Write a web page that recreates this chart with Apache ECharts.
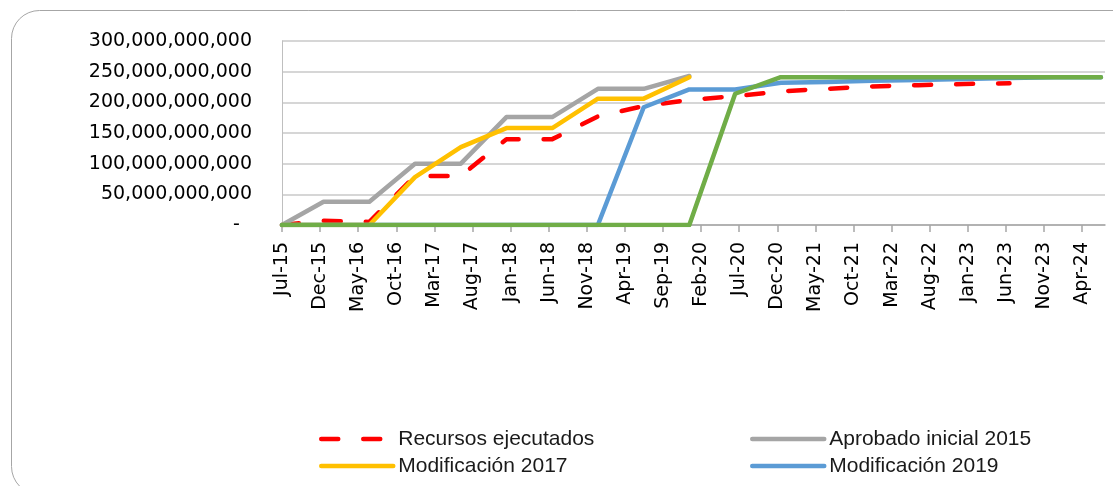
<!DOCTYPE html>
<html>
<head>
<meta charset="utf-8">
<script src="https://cdn.jsdelivr.net/npm/echarts@6/dist/echarts.min.js"></script>
<style>
  html, body { margin: 0; padding: 0; background: #ffffff; }
  #chart { width: 1113px; height: 486px; }
</style>
</head>
<body>
<div id="chart"></div>
<script>
// ---- Data ----
const axisStart = '2015-07-01';
const axisEnd = '2024-07-01';
const xTickLabels = ['Jul-15','Dec-15','May-16','Oct-16','Mar-17','Aug-17','Jan-18','Jun-18','Nov-18','Apr-19','Sep-19',
  'Feb-20','Jul-20','Dec-20','May-21','Oct-21','Mar-22','Aug-22','Jan-23','Jun-23','Nov-23','Apr-24'];
const monthsPerTick = 5;
const yTickValues = [0, 50e9, 100e9, 150e9, 200e9, 250e9, 300e9];

const ejecutadosDates = ['2015-07-01','2015-12-15','2016-06-15','2016-12-15','2017-06-15','2017-12-15','2018-06-15','2018-12-15',
  '2019-06-15','2019-12-15','2020-06-15','2020-12-15','2021-06-15','2021-12-15','2022-06-15','2022-12-15','2023-06-15'];
const ejecutadosValues = [0, 7e9, 5e9, 80e9, 80e9, 140e9, 140e9, 177e9,
  194e9, 204e9, 210e9, 218e9, 222e9, 226e9, 228e9, 230e9, 231e9];

const aprobadoDates = ['2015-07-01','2015-12-15','2016-06-15','2016-12-15','2017-06-15','2017-12-15','2018-06-15','2018-12-15','2019-06-15','2019-12-15'];
const aprobadoValues = [0, 38e9, 38e9, 100e9, 100e9, 176e9, 176e9, 222e9, 222e9, 243e9];

const mod2017Dates = ['2015-07-01','2016-06-15','2016-12-15','2017-06-15','2017-12-15','2018-06-15','2018-12-15','2019-06-15','2019-12-15'];
const mod2017Values = [0, 0, 78e9, 127e9, 158e9, 158e9, 206e9, 206e9, 241e9];

const mod2019Dates = ['2015-07-01','2018-12-15','2019-06-15','2019-12-15','2020-06-15','2020-12-15','2021-06-15','2021-12-15',
  '2022-06-15','2022-12-15','2023-06-15','2023-12-15','2024-06-15'];
const mod2019Values = [0, 0, 192e9, 221e9, 221e9, 232e9, 233e9, 235e9, 236.5e9, 238e9, 239.5e9, 241e9, 241e9];

const mod2020Dates = ['2015-07-01','2019-12-15','2020-06-15','2020-12-15','2021-06-15','2021-12-15','2022-06-15','2022-12-15',
  '2023-06-15','2023-12-15','2024-06-15'];
const mod2020Values = [0, 0, 214e9, 241e9, 241e9, 241e9, 241e9, 241e9, 241e9, 241e9, 241e9];

// ---- helpers ----
function toMonthIndex(dateStr) {
  const [y, m, d] = dateStr.split('-').map(Number);
  const [y0, m0] = axisStart.split('-').map(Number);
  const dim = new Date(y, m, 0).getDate();
  return (y - y0) * 12 + (m - m0) + (d - 1) / dim;
}
function pairs(dates, values) { return dates.map((d, i) => [toMonthIndex(d), values[i]]); }
function fmtNum(v) { return v === 0 ? '-  ' : String(Math.round(v)).replace(/\B(?=(\d{3})+(?!\d))/g, ','); }

const tickPositions = xTickLabels.map((_, i) => i * monthsPerTick);
const xMax = toMonthIndex(axisEnd);

function lineSeries(name, data, color, extra) {
  return Object.assign({
    name: name, type: 'line', data: data, symbol: 'none', showSymbol: false,
    lineStyle: { color: color, width: 4.5, cap: 'round', join: 'round' },
    itemStyle: { color: color },
    emphasis: { disabled: true },
    animation: false
  }, extra || {});
}

const chart = echarts.init(document.getElementById('chart'), null, { renderer: 'canvas' });
const legendText = { fontFamily: 'Liberation Sans, Arial, sans-serif', fontSize: 21, color: '#1a1a1a', lineHeight: 21 };
const legendCommon = {
  orient: 'vertical', top: 428.5, padding: 0, itemWidth: 72, itemHeight: 14, itemGap: 6,
  textStyle: legendText, selectedMode: false,
  itemStyle: { opacity: 0 },
  lineStyle: { width: 4.5, cap: 'round' }
};

chart.setOption({
  animation: false,
  backgroundColor: '#ffffff',
  graphic: [{
    type: 'rect', silent: true, z: -10,
    shape: { x: 11.5, y: 10.5, width: 1140, height: 484, r: 28 },
    style: { fill: 'none', stroke: '#a6a6a6', lineWidth: 1 }
  }],
  grid: { left: 282, right: 8, top: 41, bottom: 261, containLabel: false },
  legend: [
    Object.assign({ left: 319, data: ['Recursos ejecutados', 'Modificación 2017'] }, legendCommon),
    Object.assign({ left: 750, data: ['Aprobado inicial 2015', 'Modificación 2019'] }, legendCommon)
  ],
  xAxis: {
    type: 'value', min: 0, max: xMax, interval: monthsPerTick,
    axisLine: { show: true, lineStyle: { color: '#a6a6a6', width: 1.5 } },
    axisTick: { show: true, length: 7, lineStyle: { color: '#a6a6a6', width: 1.5 }, customValues: tickPositions },
    axisLabel: {
      rotate: 90, margin: 17, color: '#000000', fontFamily: 'DejaVu Sans', fontSize: 19,
      customValues: tickPositions,
      formatter: function (v) {
        const i = Math.round(v / monthsPerTick);
        return (Math.abs(v - i * monthsPerTick) < 1e-6 && xTickLabels[i]) ? xTickLabels[i] : '';
      }
    },
    splitLine: { show: false }
  },
  yAxis: {
    type: 'value', min: yTickValues[0], max: yTickValues[yTickValues.length - 1], interval: yTickValues[1] - yTickValues[0],
    axisLine: { show: true, lineStyle: { color: '#bfbfbf', width: 1 } },
    axisTick: { show: false },
    axisLabel: { margin: 30, color: '#000000', fontFamily: 'DejaVu Sans', fontSize: 19, formatter: fmtNum },
    splitLine: { show: true, lineStyle: { color: '#c8c8c8', width: 1.5 } }
  },
  series: [
    lineSeries('Recursos ejecutados', pairs(ejecutadosDates, ejecutadosValues), '#ff0000',
      { lineStyle: { color: '#ff0000', width: 4.5, type: [17, 25], cap: 'round', join: 'round' } }),
    lineSeries('Aprobado inicial 2015', pairs(aprobadoDates, aprobadoValues), '#a5a5a5'),
    lineSeries('Modificación 2017', pairs(mod2017Dates, mod2017Values), '#ffc000'),
    lineSeries('Modificación 2019', pairs(mod2019Dates, mod2019Values), '#5b9bd5'),
    lineSeries('Modificación 2020', pairs(mod2020Dates, mod2020Values), '#70ad47')
  ]
});
</script>
</body>
</html>
